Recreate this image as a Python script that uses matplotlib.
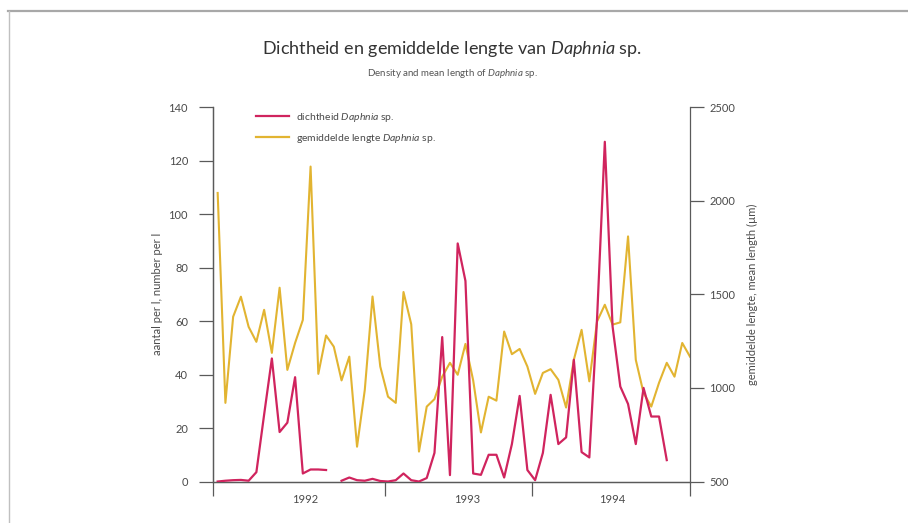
import numpy as np
import matplotlib.pyplot as plt
from matplotlib.lines import Line2D

# =====================================================
# DATA
# =====================================================

# density of Daphnia sp. (number per l), one value per sample
dichtheid = [
    0, 0.3, 0.5, 0.6, 0.3, 3.5, 25, 46, 18.5, 22,
    39, 3, 4.5, 4.5, 4.3, np.nan, 0.3, 1.5, 0.5, 0.3,
    1.0, 0.2, 0, 0.5, 3, 0.5, 0, 1.3, 10.7, 54,
    2.4, 89, 75, 3, 2.5, 10, 10, 1.5, 14, 32,
    4.3, 0.5, 10.7, 32.4, 14, 16.5, 45.5, 11, 9, 61,
    127, 58, 35.5, 29, 14, 35, 24.3, 24.3, 8, np.nan,
    np.nan, np.nan,
]

# mean length of Daphnia sp. (um)
lengte = [
    2041, 920, 1380, 1487, 1326, 1246, 1417, 1187, 1535, 1096,
    1240, 1363, 2182, 1075, 1280, 1220, 1040, 1167, 686, 989,
    1488, 1114, 953, 920, 1512, 1340, 660, 900, 940, 1060,
    1134, 1070, 1235, 1040, 762, 953, 932, 1301, 1180, 1208,
    1114, 968, 1080, 1100, 1043, 895, 1150, 1310, 1035, 1355,
    1444, 1338, 1350, 1809, 1150, 973, 900, 1027, 1134, 1060,
    1240, 1167,
]

# sample index of axis start, year boundaries and axis end
year_bounds = [-0.6, 21.6, 40.6, 61]
year_labels = ["1992", "1993", "1994"]
year_label_pos = [11.3, 32.2, 50.9]

left_ticks = [0, 20, 40, 60, 80, 100, 120, 140]
right_ticks = [500, 1000, 1500, 2000, 2500]

x = np.arange(len(lengte))

# =====================================================
# STYLE
# =====================================================

RED = "#d0245e"
YELLOW = "#e2b431"
AXIS = "#5a5a5a"
TEXT = "#4a4a4a"

plt.rcParams["font.family"] = ["Lato", "DejaVu Sans"]
plt.rcParams["mathtext.fontset"] = "custom"
plt.rcParams["mathtext.rm"] = "Lato"
plt.rcParams["mathtext.it"] = "Lato:italic"

# =====================================================
# FIGURE
# =====================================================

fig = plt.figure(figsize=(9.08, 5.23), dpi=100)

# page border (top and left edge of the scanned frame)
fig.add_artist(Line2D([8 / 908, 1], [1 - 10.5 / 523, 1 - 10.5 / 523],
                      transform=fig.transFigure,
                      color="#a8a8a8", linewidth=1.6))
fig.add_artist(Line2D([9 / 908, 9 / 908], [0, 1 - 10.5 / 523],
                      transform=fig.transFigure,
                      color="#c0c0c0", linewidth=1.0))

ax = fig.add_axes([0.2346, 0.0793, 0.5253, 0.7161])
ax2 = ax.twinx()

ax.plot(x, dichtheid, color=RED, linewidth=1.6, zorder=3)
ax2.plot(x, lengte, color=YELLOW, linewidth=1.5, zorder=2)

ax.set_zorder(ax2.get_zorder() + 1)
ax.patch.set_visible(False)

# =====================================================
# AXES
# =====================================================

ax.set_xlim(year_bounds[0], year_bounds[-1])
ax.set_ylim(0, 140)
ax2.set_ylim(500, 2500)

for a in (ax, ax2):
    a.spines["top"].set_visible(False)
    for s in ("left", "right", "bottom"):
        a.spines[s].set_color(AXIS)
        a.spines[s].set_linewidth(0.9)

ax.spines["right"].set_visible(False)

ax.set_yticks(left_ticks)
ax2.set_yticks(right_ticks)

ax.set_xticks(year_bounds)
ax.set_xticklabels([])
ax.set_xticks(year_label_pos, minor=True)
ax.set_xticklabels(year_labels, minor=True)

ax.tick_params(axis="x", which="major", length=10, width=0.9, color=AXIS)
ax.tick_params(axis="x", which="minor", length=0, pad=9,
               labelsize=8, labelcolor=TEXT)
ax.tick_params(axis="y", length=10, width=0.9, color=AXIS,
               labelsize=8, labelcolor=TEXT, pad=8)
ax2.tick_params(axis="y", length=10, width=0.9, color=AXIS,
                labelsize=8, labelcolor=TEXT, pad=4)

ax.set_ylabel("aantal per l, number per l", fontsize=8,
              color=TEXT, labelpad=4)
ax2.set_ylabel("gemiddelde lengte, mean length (µm)", fontsize=8,
               color=TEXT, labelpad=8)

# =====================================================
# LEGEND
# =====================================================

handles = [
    Line2D([], [], color=RED, linewidth=1.6),
    Line2D([], [], color=YELLOW, linewidth=1.6),
]

ax.legend(
    handles,
    [r"dichtheid $\mathit{Daphnia}$ sp.",
     r"gemiddelde lengte $\mathit{Daphnia}$ sp."],
    loc="upper left",
    bbox_to_anchor=(0.07, 1.014),
    frameon=False,
    fontsize=7.5,
    labelcolor=TEXT,
    handlelength=3.2,
    handletextpad=0.7,
    labelspacing=0.75
)

# =====================================================
# TITLES
# =====================================================

fig.text(0.498, 0.907,
         r"Dichtheid en gemiddelde lengte van $\mathit{Daphnia}$ sp.",
         ha="center", va="center", fontsize=13, color="#333333")

fig.text(0.498, 0.859,
         r"Density and mean length of $\mathit{Daphnia}$ sp.",
         ha="center", va="center", fontsize=7, color="#555555")

fig.savefig("out.png", dpi=100)
